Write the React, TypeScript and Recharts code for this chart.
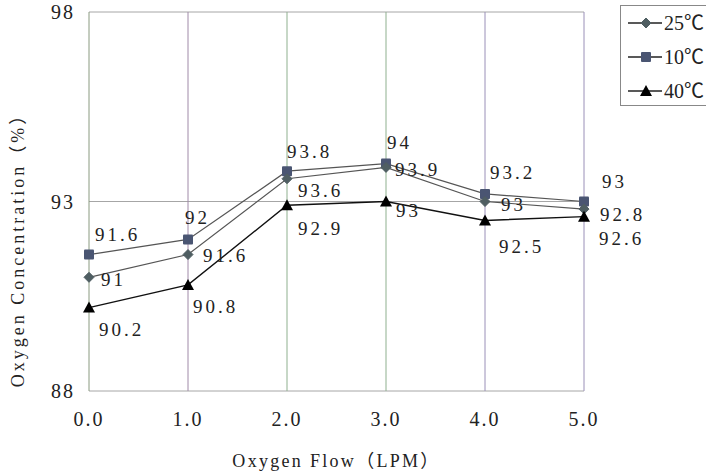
import React from 'react';
import {
  LineChart,
  Line,
  XAxis,
  YAxis,
  CartesianGrid,
  ReferenceLine,
  LabelList,
} from 'recharts';

// oxygen flow (LPM) on x, concentration (%) per temperature
const flows = [0, 1, 2, 3, 4, 5];
const conc25 = [91, 91.6, 93.6, 93.9, 93, 92.8];
const conc10 = [91.6, 92, 93.8, 94, 93.2, 93];
const conc40 = [90.2, 90.8, 92.9, 93, 92.5, 92.6];
const yTicks = [88, 93, 98];
const legendNames = ['25℃', '10℃', '40℃'];

// where each value label sits relative to its point [dx, dy]
const offsets10 = [[6, -20], [-3, -22], [0, -20], [1, -21], [5, -22], [18, -20]];
const offsets25 = [[12, 2], [15, 1], [11, 12], [9, 2], [16, 3], [16, 5]];
const offsets40 = [[10, 22], [5, 21], [11, 23], [10, 9], [14, 26], [15, 22]];

// the vertical grid lines in the scan are tinted differently
const vLineColors = ['#8a9a80', '#a08aa8', '#8fb08f', '#8fb08f', '#9a90b8', '#9a90b8'];

const FONT = "'Liberation Serif', 'Noto Sans CJK SC', serif";
const TEXT = '#222';

const data = flows.map((f, i) => ({
  flow: f,
  t25: conc25[i],
  t10: conc10[i],
  t40: conc40[i],
}));

function Diamond({ cx, cy, fill }: any) {
  const r = 5;
  return <path d={`M${cx},${cy - r}L${cx + r},${cy}L${cx},${cy + r}L${cx - r},${cy}Z`} fill={fill} stroke={fill} />;
}

function Square({ cx, cy, fill }: any) {
  const r = 5;
  return <rect x={cx - r} y={cy - r} width={r * 2} height={r * 2} fill={fill} rx={1} />;
}

function Triangle({ cx, cy, fill }: any) {
  return <path d={`M${cx},${cy - 6}L${cx + 6},${cy + 5}L${cx - 6},${cy + 5}Z`} fill={fill} />;
}

const markers: any = { '25℃': Diamond, '10℃': Square, '40℃': Triangle };
const markerColors: any = { '25℃': '#4f5e62', '10℃': '#4a5572', '40℃': '#000' };

function makeLabel(offs: number[][]) {
  return (props: any) => {
    const { x, y, value, index } = props;
    const [dx, dy] = offs[index] || [8, 0];
    return (
      <text x={x + dx} y={y + dy} dy="0.35em" fontFamily={FONT} fontSize={19} letterSpacing={3} fill={TEXT}>
        {Number(value).toFixed(value % 1 === 0 ? 0 : 1)}
      </text>
    );
  };
}

function LegendBox() {
  return (
    <svg width={86} height={102} style={{ display: 'block' }}>
      <rect x={0.5} y={0.5} width={100} height={100} fill="#fff" stroke="#888" />
      {legendNames.map((name, i) => {
        const Mk = markers[name];
        const y = 18 + i * 34;
        return (
          <g key={name}>
            <line x1={8} x2={42} y1={y} y2={y} stroke="#222" strokeWidth={1.5} />
            <Mk cx={26} cy={y} fill={markerColors[name]} />
            <text x={44} y={y} dy="0.35em" fontFamily={FONT} fontSize={20} fill={TEXT}>
              {name}
            </text>
          </g>
        );
      })}
    </svg>
  );
}

function YTitle({ viewBox }: any) {
  const x = viewBox.x + 18;
  const y = viewBox.y + viewBox.height / 2 + 44;
  return (
    <text x={x} y={y} transform={`rotate(-90 ${x} ${y})`} textAnchor="middle" dy="0.35em"
      fontFamily={FONT} fontSize={18} letterSpacing={3} fill={TEXT}>
      Oxygen Concentration（%）
    </text>
  );
}

function XTitle({ viewBox }: any) {
  const x = viewBox.x + viewBox.width / 2;
  return (
    <text x={x} y={467} textAnchor="middle" fontFamily={FONT} fontSize={18} letterSpacing={2.3} fill={TEXT}>
      Oxygen Flow（LPM）
    </text>
  );
}

export default function App() {
  const tickStyle = { fontFamily: FONT, fontSize: 20, fill: TEXT, letterSpacing: 2 };
  return (
    <div style={{ position: 'absolute', left: 0, top: 0, width: 706, height: 473, background: '#fff' }}>
      <LineChart width={706} height={473} data={data} margin={{ top: 12, right: 122, left: 0, bottom: 0 }}>
        <CartesianGrid vertical={false} stroke="#a6a6a6" />
        {flows.map((f, i) => (
          <ReferenceLine key={f} x={f} stroke={vLineColors[i]} />
        ))}
        <XAxis
          dataKey="flow"
          type="number"
          domain={[0, 5]}
          ticks={flows}
          tickFormatter={(v) => v.toFixed(1)}
          axisLine={false}
          tickLine={false}
          tickSize={0}
          tickMargin={21}
          tick={tickStyle}
          height={82}
          label={<XTitle />}
        />
        <YAxis
          type="number"
          domain={[88, 98]}
          ticks={yTicks}
          axisLine={false}
          tickLine={false}
          tickSize={0}
          tickMargin={14}
          tick={tickStyle}
          width={89}
          label={<YTitle />}
        />
        <Line dataKey="t10" name="10℃" stroke="#555" strokeWidth={1.2} isAnimationActive={false}
          dot={(p: any) => <Square key={p.index} cx={p.cx} cy={p.cy} fill={markerColors['10℃']} />}>
          <LabelList dataKey="t10" content={makeLabel(offsets10)} />
        </Line>
        <Line dataKey="t25" name="25℃" stroke="#555" strokeWidth={1.2} isAnimationActive={false}
          dot={(p: any) => <Diamond key={p.index} cx={p.cx} cy={p.cy} fill={markerColors['25℃']} />}>
          <LabelList dataKey="t25" content={makeLabel(offsets25)} />
        </Line>
        <Line dataKey="t40" name="40℃" stroke="#111" strokeWidth={1.4} isAnimationActive={false}
          dot={(p: any) => <Triangle key={p.index} cx={p.cx} cy={p.cy} fill="#000" />}>
          <LabelList dataKey="t40" content={makeLabel(offsets40)} />
        </Line>
      </LineChart>
      <div style={{ position: 'absolute', left: 620, top: 5 }}>
        <LegendBox />
      </div>
    </div>
  );
}
